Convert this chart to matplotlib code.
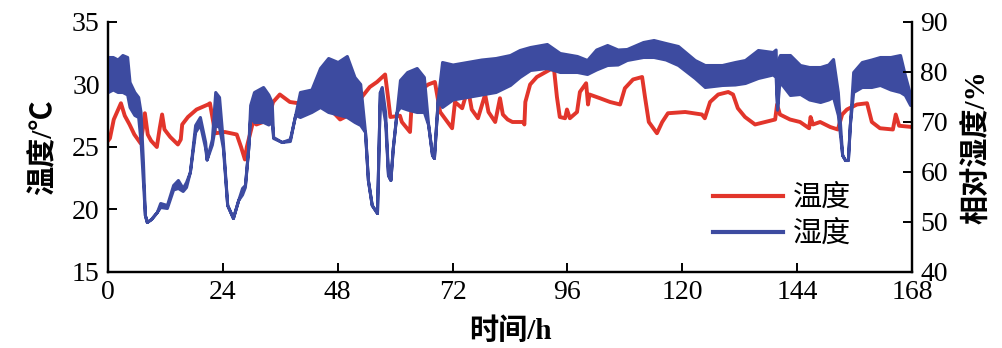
"""
Temperature and relative humidity over one week (dual y axis)
"""
import matplotlib
matplotlib.use("Agg")
import matplotlib.pyplot as plt
from matplotlib.lines import Line2D

# temperature (left axis), hours vs degrees C
temp_hours = [
    0, 0.4, 1.2, 2.7, 3.5, 4.5, 5.5, 6.8, 7.3, 7.7, 8.3, 9.0, 10.2, 10.8,
    11.3, 11.8, 13.0, 14.6, 15.2, 15.5, 16.7, 18.5, 20.9, 21.3, 22.0, 22.4,
    24.4, 26.9, 27.8, 28.6, 29.0, 30.3, 31.0, 32.4, 33.4, 34.5, 35.9, 38.0,
    41.6, 43.7, 44.5, 45.3, 46.0, 47.0, 48.5, 49.5, 52.0, 54.7, 56.2, 57.9,
    58.5, 59.0, 61.0, 61.4, 63.1, 63.5, 64.0, 66.9, 68.3, 69.4, 71.9, 72.5,
    74.0, 75.2, 76.0, 77.3, 78.8, 79.5, 80.9, 81.9, 82.5, 83.5, 84.5, 86.8,
    87.0, 87.2, 88.2, 89.6, 92.4, 93.2, 93.8, 94.4, 95.5, 95.9, 96.5, 98.0,
    98.6, 99.9, 100.3, 100.6, 102.8, 104.9, 107.0, 108.0, 109.7, 111.6,
    112.2, 113.0, 114.7, 115.8, 117.0, 120.6, 124.1, 124.7, 125.8, 127.5,
    129.6, 130.6, 131.6, 133.1, 135.2, 137.3, 139.4, 139.8, 140.4, 142.5,
    144.6, 146.5, 146.8, 147.3, 148.8, 150.9, 152.5, 153.4, 154.4, 156.5,
    158.6, 159.6, 161.3, 164.0, 164.6, 165.3, 168.0,
]
temp_values = [
    25.5, 25.7, 27.2, 28.5, 27.5, 26.8, 26.0, 25.3, 26.5, 27.7, 26.0, 25.5,
    25.0, 26.5, 27.6, 26.4, 25.8, 25.2, 25.6, 26.8, 27.4, 28.0, 28.4, 28.5,
    27.0, 26.1, 26.2, 26.0, 25.0, 24.0, 25.0, 27.0, 26.8, 27.0, 27.2, 28.6,
    29.2, 28.6, 28.4, 28.4, 29.0, 30.0, 28.6, 27.8, 27.2, 27.4, 28.5, 29.8,
    30.2, 30.8, 29.0, 27.4, 27.5, 27.0, 26.2, 28.8, 29.2, 30.0, 30.2, 27.8,
    26.5, 28.6, 28.1, 29.7, 28.0, 27.3, 29.2, 27.8, 27.0, 28.9, 27.6, 27.2,
    27.0, 27.0, 26.8, 28.6, 30.0, 30.6, 31.2, 31.2, 29.0, 27.4, 27.3, 28.0,
    27.3, 27.8, 29.4, 30.1, 28.4, 29.2, 28.9, 28.6, 28.4, 29.7, 30.4, 30.6,
    29.0, 27.0, 26.1, 27.0, 27.7, 27.8, 27.6, 27.3, 28.6, 29.2, 29.4, 29.2,
    28.1, 27.4, 26.8, 27.0, 27.2, 28.4, 27.6, 27.2, 27.0, 26.5, 27.4, 26.8,
    27.0, 26.6, 26.4, 27.6, 28.0, 28.4, 28.5, 27.0, 26.5, 26.4, 27.6, 26.7,
    26.6,
]

# relative humidity (right axis): lower and upper edge of the noisy band
hum_hours = [
    0, 1, 2, 3, 4, 4.5, 5.5, 6.3, 6.8, 7.3, 7.7, 8.1, 9.0, 10.2, 10.9, 12.3,
    13.6, 14.6, 15.6, 16.3, 17.1, 18.2, 19.2, 20.3, 20.6, 21.7, 22.4, 23.2,
    24.0, 24.9, 26.1, 27.2, 28.0, 28.6, 29.3, 29.7, 30.5, 32.4, 33.5, 34.2,
    34.5, 36.3, 38.0, 39.1, 40.1, 42.5, 44.3, 46.0, 48.0, 49.9, 51.5, 52.7,
    53.7, 54.3, 55.1, 56.2, 56.8, 57.2, 57.9, 58.5, 59.0, 59.5, 60.3, 61.0,
    62.5, 64.5, 66.0, 66.9, 67.7, 68.1, 68.9, 69.8, 72.0, 75.0, 78.0, 81.0,
    84.0, 86.0, 88.2, 91.7, 94.4, 98.0, 100.1, 102.0, 104.3, 106.5, 108.4,
    111.8, 114.0, 116.5, 119.1, 122.6, 124.7, 128.3, 131.0, 133.1, 135.8,
    138.9, 139.5, 139.8, 140.2, 140.4, 142.5, 144.6, 146.5, 148.8, 150.5,
    151.5, 152.5, 153.4, 154.0, 154.6, 155.0, 155.7, 157.5, 159.5, 161.3,
    163.5, 165.5, 166.5, 167.6, 168.0,
]
hum_low = [
    76, 76.5, 76, 76, 75.5, 73, 71.4, 71, 66, 58, 51.4, 50, 50.6, 52, 53,
    52.8, 56.5, 56.8, 56.2, 57, 60, 68, 69.5, 64.8, 62.5, 65.5, 69.4, 69,
    64.8, 53.4, 50.8, 54.4, 55.5, 57, 64.8, 71, 70, 70, 69.5, 70, 66.8, 66,
    66.2, 71.4, 71, 72, 73, 72, 71.5, 71, 70, 69.4, 68, 58.4, 53.4, 51.8,
    76, 74, 70, 59.4, 58.4, 64.8, 72, 73, 72.5, 72, 72, 69.4, 63.4, 62.8,
    74.6, 73, 74.5, 75, 75.5, 76, 77.4, 79, 80.4, 80.8, 80, 80, 79.6, 80.5,
    81.4, 81.5, 82.4, 83, 83, 82.5, 81.4, 78.8, 77, 77.4, 77.5, 77.8, 78.8,
    79.5, 79, 72.5, 77, 78, 75.4, 75.6, 74.5, 74, 74.5, 75, 71.4, 63.4,
    62.4, 62.4, 69.4, 76, 77, 77, 77.4, 76.5, 76, 75.4, 73.4, 73.4,
]
hum_high = [
    83, 83, 82.5, 83.4, 83, 78, 76, 75, 72, 62, 51.4, 50, 50.6, 52, 53.8,
    53.4, 57.4, 58.4, 56.8, 58, 60, 69.4, 71, 66, 62.5, 66.6, 76, 75, 66,
    53.4, 50.8, 54.4, 56.8, 57.4, 64.8, 73.4, 76, 77, 75.5, 74, 67, 66,
    66.6, 71.4, 76, 76.5, 80.8, 82.8, 82, 83.2, 79, 77.6, 68, 58.4, 53.4,
    51.8, 76, 77, 72, 59.4, 58.4, 64.8, 72, 78.4, 80, 80.8, 79, 69.4, 63.4,
    62.8, 74.6, 82, 81.5, 82, 82.5, 82.8, 83.4, 84.4, 85, 85.6, 83.8, 83.2,
    82.4, 84.5, 85.4, 84.5, 84.6, 86, 86.4, 85.8, 85.2, 82.4, 81.4, 81.4,
    82, 82.4, 84.4, 84, 84.5, 72.5, 83, 83.4, 83.4, 81.4, 81, 81, 81.5,
    82.6, 76, 63.4, 62.4, 62.4, 69.4, 80, 82, 82.5, 83, 83, 83.4, 79.4,
    75.5, 75,
]

x_ticks = [0, 24, 48, 72, 96, 120, 144, 168]

RED = "#e2352b"
BLUE = "#3d4ba0"


def plot():
    """Draws both series on twin y axes and saves out.png"""
    plt.rcParams["font.family"] = ["Liberation Serif", "Noto Sans CJK SC"]
    fig = plt.figure(figsize=(10.03, 3.48), dpi=100)
    ax = fig.add_axes([0.1077, 0.2184, 0.8016, 0.7184])
    ax2 = ax.twinx()

    ax.plot(temp_hours, temp_values, color=RED, lw=2.8)
    ax2.fill_between(hum_hours, hum_low, hum_high, color=BLUE,
                     edgecolor=BLUE, lw=2.2)

    ax.set_xlim(0, 168)
    ax.set_ylim(15, 35)
    ax2.set_ylim(40, 90)
    ax.set_xticks(x_ticks)
    ax.set_yticks([15, 20, 25, 30, 35])
    ax2.set_yticks([40, 50, 60, 70, 80, 90])

    for axis in (ax, ax2):
        axis.spines["top"].set_visible(False)
        for side in ("left", "right", "bottom"):
            axis.spines[side].set_linewidth(1.6)
        axis.tick_params(direction="in", length=6.5, width=1.4,
                         labelsize=20, pad=6)

    label_font = {"fontsize": 21, "fontweight": "bold"}
    ax.set_xlabel("时间/h", **label_font)
    ax.set_ylabel("温度/℃", **label_font)
    ax2.set_ylabel("相对湿度/%", rotation=90, **label_font)
    ax.xaxis.set_label_coords(0.5, -0.18)
    ax.yaxis.set_label_coords(-0.0634, 0.5)
    ax2.yaxis.set_label_coords(1.0634, 0.5)

    handles = [Line2D([], [], color=RED, lw=3),
               Line2D([], [], color=BLUE, lw=3)]
    ax2.legend(handles, ["温度", "湿度"], loc="center left",
               bbox_to_anchor=(0.734, 0.222), frameon=False,
               prop={"size": 21}, borderpad=0, handlelength=2.4,
               handletextpad=0.35, labelspacing=0.3)

    fig.savefig("out.png", dpi=100)


if __name__ == "__main__":
    plot()
